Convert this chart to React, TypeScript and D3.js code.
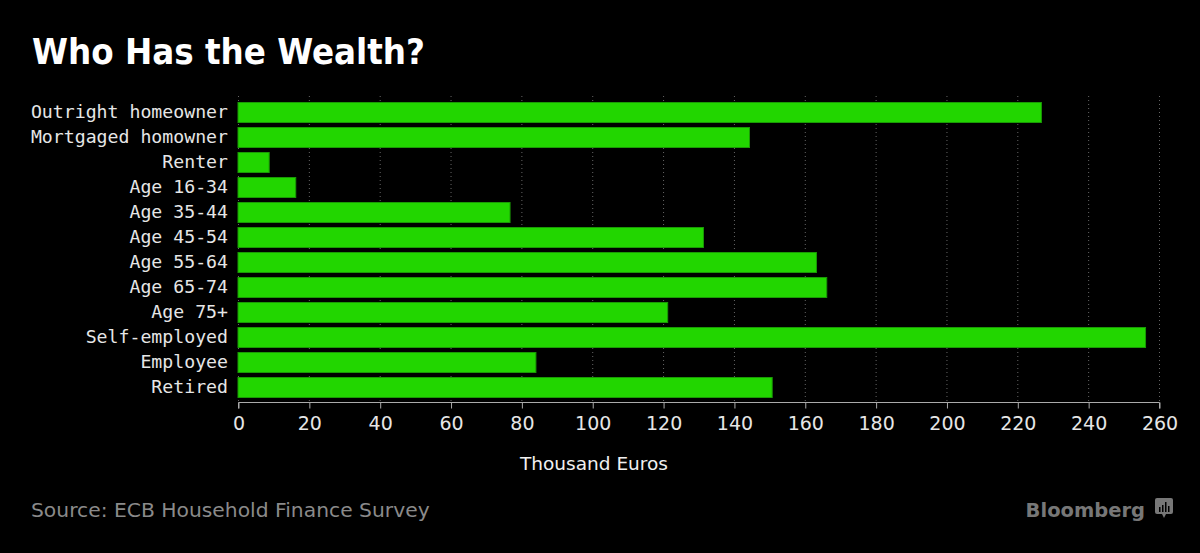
import React, { useRef, useEffect } from 'react';
import * as d3 from 'd3';

const categories = [
  'Outright homeowner',
  'Mortgaged homowner',
  'Renter',
  'Age 16-34',
  'Age 35-44',
  'Age 45-54',
  'Age 55-64',
  'Age 65-74',
  'Age 75+',
  'Self-employed',
  'Employee',
  'Retired',
];
const wealth = [226.8, 144.4, 8.8, 16.3, 76.8, 131.4, 163.3, 166.2, 121.3, 256.2, 84.1, 150.8];
const xTicks = [0, 20, 40, 60, 80, 100, 120, 140, 160, 180, 200, 220, 240, 260];

const W = 1200;
const H = 553;

const App: React.FC = () => {
  const ref = useRef<SVGSVGElement>(null);

  useEffect(() => {
    const svg = d3.select(ref.current);
    svg.selectAll('*').remove();

    const x = d3.scaleLinear().domain([0, 260]).range([238, 1159]);
    const y = d3
      .scaleBand<string>()
      .domain(categories)
      .range([100, 400])
      .paddingInner(0.2)
      .paddingOuter(0.1);

    svg.append('rect').attr('width', W).attr('height', H).attr('fill', '#000');

    // title
    svg
      .append('text')
      .attr('x', 32)
      .attr('y', 64)
      .attr('fill', '#fff')
      .attr('textLength', 393)
      .attr('lengthAdjust', 'spacingAndGlyphs')
      .style('font-family', 'DejaVu Sans')
      .style('font-weight', 'bold')
      .style('font-size', '35px')
      .text('Who Has the Wealth?');

    // dotted grid
    svg
      .append('g')
      .selectAll('line')
      .data(xTicks)
      .enter()
      .append('line')
      .attr('x1', (d) => x(d) + 0.5)
      .attr('x2', (d) => x(d) + 0.5)
      .attr('y1', 96)
      .attr('y2', 402)
      .attr('stroke', '#666')
      .attr('stroke-width', 1)
      .attr('stroke-dasharray', '1,3');

    // bars
    svg
      .append('g')
      .selectAll('rect')
      .data(categories)
      .enter()
      .append('rect')
      .attr('x', x(0))
      .attr('y', (d) => y(d) as number)
      .attr('width', (d, i) => x(wealth[i]) - x(0))
      .attr('height', y.bandwidth())
      .attr('fill', '#22d600')
      .attr('stroke', '#1a9a05')
      .attr('stroke-width', 1);

    // category labels
    svg
      .append('g')
      .selectAll('text')
      .data(categories)
      .enter()
      .append('text')
      .attr('x', 228)
      .attr('y', (d) => (y(d) as number) + y.bandwidth() / 2)
      .attr('dy', '0.28em')
      .attr('text-anchor', 'end')
      .attr('fill', '#e6e6e6')
      .style('font-family', 'DejaVu Sans Mono')
      .style('font-size', '18.2px')
      .text((d) => d);

    // x axis
    const axis = d3.axisBottom(x).tickValues(xTicks).tickSize(6).tickPadding(8).tickFormat(d3.format('d'));
    const gx = svg.append('g').attr('transform', 'translate(0.5,402.5)').call(axis);
    gx.select('.domain').attr('stroke', '#aaa').attr('d', `M${x(0)},6V0H${x(260)}V6`);
    gx.selectAll('.tick line').attr('stroke', '#aaa');
    gx.selectAll('.tick text')
      .attr('fill', '#e6e6e6')
      .style('font-family', 'DejaVu Sans')
      .style('font-size', '19px');

    svg
      .append('text')
      .attr('x', 594)
      .attr('y', 470)
      .attr('text-anchor', 'middle')
      .attr('fill', '#f0f0f0')
      .style('font-family', 'DejaVu Sans')
      .style('font-size', '18.5px')
      .text('Thousand Euros');

    // source
    svg
      .append('text')
      .attr('x', 31)
      .attr('y', 517)
      .attr('fill', '#8a8a8a')
      .style('font-family', 'DejaVu Sans')
      .style('font-size', '20.3px')
      .text('Source: ECB Household Finance Survey');

    // logo
    svg
      .append('text')
      .attr('x', 1145)
      .attr('y', 517)
      .attr('text-anchor', 'end')
      .attr('fill', '#777')
      .style('font-family', 'DejaVu Sans')
      .style('font-weight', 'bold')
      .style('font-size', '19.5px')
      .text('Bloomberg');

    const logo = svg.append('g').attr('transform', 'translate(1155,498)');
    logo.append('rect').attr('width', 18).attr('height', 16).attr('rx', 2).attr('fill', '#777');
    logo.append('path').attr('d', 'M7,16 L9,20 L11,16 Z').attr('fill', '#777');
    [
      [4, 9, 5],
      [7, 7, 7],
      [10, 4, 10],
      [13, 8, 6],
    ].forEach(([lx, ly, lh]) => {
      logo.append('rect').attr('x', lx).attr('y', ly).attr('width', 1.5).attr('height', lh).attr('fill', '#000');
    });
  }, []);

  return (
    <svg
      ref={ref}
      width={W}
      height={H}
      style={{ position: 'absolute', left: 0, top: 0, display: 'block' }}
    />
  );
};

export default App;
